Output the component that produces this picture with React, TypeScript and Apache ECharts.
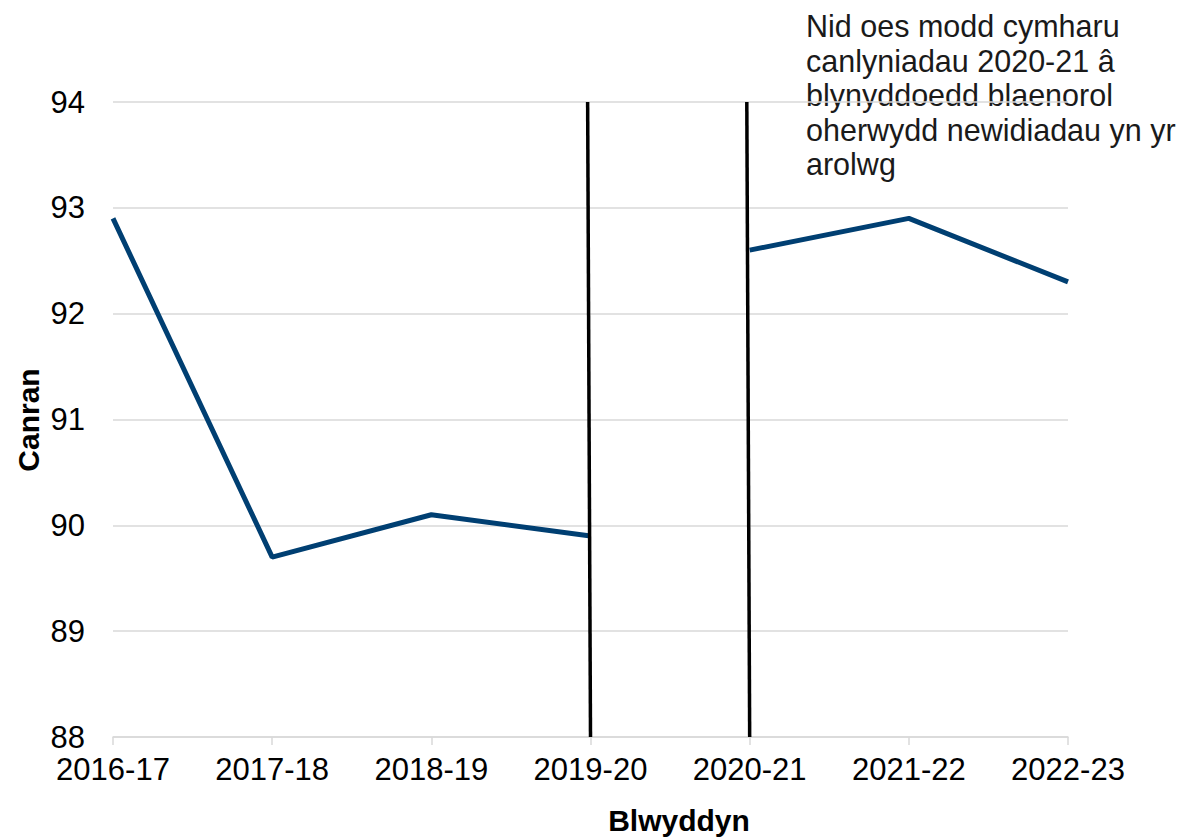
import React, { useEffect, useRef } from "react";
import * as echarts from "echarts";

const categories = ["2016-17", "2017-18", "2018-19", "2019-20", "2020-21", "2021-22", "2022-23"];
const beforeValues = [92.9, 89.7, 90.1, 89.9, null, null, null];
const afterValues = [null, null, null, null, 92.6, 92.9, 92.3];
const breakLineA = [[2.982, 94], [3.0, 88]];
const breakLineB = [[3.982, 94], [4.0, 88]];
const yTicks = { min: 88, max: 94, interval: 1 };
const noteLines = [
  "Nid oes modd cymharu",
  "canlyniadau 2020-21 â",
  "blynyddoedd blaenorol",
  "oherwydd newidiadau yn yr",
  "arolwg",
];
const xName = "Blwyddyn";
const yName = "Canran";

const FONT = "'Liberation Sans', Arial, sans-serif";
const LINE_COLOR = "#003f72";

export default function App() {
  const ref = useRef<HTMLDivElement>(null);
  useEffect(() => {
    if (!ref.current) return;
    const chart = echarts.init(ref.current, null, { renderer: "svg" });
    chart.setOption({
      animation: false,
      backgroundColor: "#ffffff",
      textStyle: { fontFamily: FONT },
      grid: { left: 113, right: 121, top: 102, bottom: 100, containLabel: false },
      xAxis: [
        {
          type: "category",
          data: categories,
          boundaryGap: false,
          axisLine: { show: true, lineStyle: { color: "#d9d9d9", width: 1.5 } },
          axisTick: { show: true, length: 8, lineStyle: { color: "#d9d9d9", width: 1.5 } },
          axisLabel: { fontSize: 31, color: "#000000", margin: 17, fontFamily: FONT },
          splitLine: { show: false },
        },
        {
          type: "value",
          min: 0,
          max: 6,
          show: false,
          position: "bottom",
        },
      ],
      yAxis: {
        type: "value",
        min: yTicks.min,
        max: yTicks.max,
        interval: yTicks.interval,
        axisLine: { show: false },
        axisTick: { show: false },
        axisLabel: { fontSize: 31, color: "#000000", margin: 28, fontFamily: FONT },
        splitLine: { show: true, lineStyle: { color: "#d9d9d9", width: 1.5 } },
      },
      series: [
        {
          type: "line",
          data: beforeValues,
          xAxisIndex: 0,
          showSymbol: false,
          connectNulls: false,
          lineStyle: { color: LINE_COLOR, width: 5 },
          z: 3,
        },
        {
          type: "line",
          data: afterValues,
          xAxisIndex: 0,
          showSymbol: false,
          connectNulls: false,
          lineStyle: { color: LINE_COLOR, width: 5 },
          z: 3,
        },
        {
          type: "line",
          data: breakLineA,
          xAxisIndex: 1,
          showSymbol: false,
          lineStyle: { color: "#000000", width: 3.5 },
          z: 4,
        },
        {
          type: "line",
          data: breakLineB,
          xAxisIndex: 1,
          showSymbol: false,
          lineStyle: { color: "#000000", width: 3.5 },
          z: 4,
        },
      ],
      graphic: [
        {
          type: "text",
          left: 806,
          top: 9,
          style: {
            text: noteLines.join("\n"),
            fontSize: 30.5,
            lineHeight: 34.5,
            fill: "#1a1a1a",
            fontFamily: FONT,
          },
        },
        {
          type: "text",
          x: 679,
          y: 820,
          style: {
            text: xName,
            fontSize: 30,
            fontWeight: "bold",
            fill: "#000000",
            fontFamily: FONT,
            align: "center",
            verticalAlign: "middle",
          },
        },
        {
          type: "text",
          x: 28,
          y: 420,
          rotation: Math.PI / 2,
          style: {
            text: yName,
            fontSize: 30,
            fontWeight: "bold",
            fill: "#000000",
            fontFamily: FONT,
            align: "center",
            verticalAlign: "middle",
          },
        },
      ],
    });
    return () => chart.dispose();
  }, []);
  return (
    <div
      ref={ref}
      style={{ position: "fixed", left: 0, top: 0, width: 1189, height: 837, background: "#fff" }}
    />
  );
}
